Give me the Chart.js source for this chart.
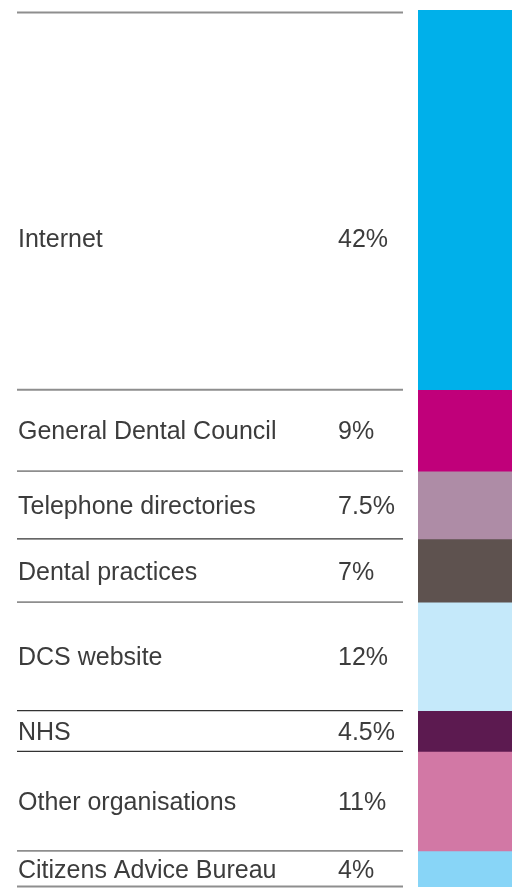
<!DOCTYPE html>
<html>
<head>
<meta charset="utf-8">
<script src="https://cdn.jsdelivr.net/npm/chart.js@4"></script>
<style>
  html, body { margin: 0; padding: 0; background: #ffffff; }
  #wrap { width: 520px; height: 891px; position: relative; }
</style>
</head>
<body>
<div id="wrap"><canvas id="c"></canvas></div>
<script>
const categories = ['Internet', 'General Dental Council', 'Telephone directories', 'Dental practices', 'DCS website', 'NHS', 'Other organisations', 'Citizens Advice Bureau'];
const values = [42, 9, 7.5, 7, 12, 4.5, 11, 4];
const valueLabels = ['42%', '9%', '7.5%', '7%', '12%', '4.5%', '11%', '4%'];
const colors = ['#00b0ea', '#c0007a', '#ae8ca6', '#5e524f', '#c5e9fa', '#5c1a50', '#d278a5', '#88d5f7'];
const dividerColors = ['#8e8e8e', '#8e8e8e', '#8e8e8e', '#333333', '#8e8e8e', '#333333', '#333333', '#8e8e8e', '#8e8e8e'];

const total = values.reduce((a, b) => a + b, 0);

const tablePlugin = {
  id: 'tablePlugin',
  afterDraw(chart, args, opts) {
    const ctx = chart.ctx;
    const metas = chart.data.datasets.map((d, i) => chart.getDatasetMeta(i));
    const bounds = [];
    metas.forEach((m, i) => {
      const el = m.data[0];
      const top = Math.min(el.y, el.base);
      const bot = Math.max(el.y, el.base);
      if (i === 0) bounds.push(top);
      bounds.push(bot);
    });
    ctx.save();
    // divider lines
    bounds.forEach((y, i) => {
      ctx.beginPath();
      ctx.strokeStyle = dividerColors[i];
      ctx.lineWidth = dividerColors[i] === '#333333' ? 1.3 : 1.8;
      let yy = y;
      if (i === 0) yy = y + 2.5;
      if (i === bounds.length - 1) yy = y - 0.5;
      ctx.moveTo(opts.lineLeft, yy);
      ctx.lineTo(opts.lineRight, yy);
      ctx.stroke();
    });
    // labels
    ctx.font = opts.font;
    ctx.fillStyle = opts.color;
    ctx.textBaseline = 'alphabetic';
    ctx.textAlign = 'left';
    categories.forEach((name, i) => {
      const top = bounds[i], bot = bounds[i + 1];
      let cy = (top + bot) / 2;
      if (i === 0) cy = top + (bot - top) * 0.6;
      const base = cy + opts.capHalf;
      ctx.fillText(name, opts.labelX, base);
      ctx.fillText(valueLabels[i], opts.valueX, base);
    });
    ctx.restore();
  }
};

new Chart(document.getElementById('c'), {
  type: 'bar',
  data: {
    labels: ['Sources'],
    datasets: categories.map((name, i) => ({
      label: name,
      data: [values[i]],
      backgroundColor: colors[i],
      borderWidth: 0,
      barPercentage: 1,
      categoryPercentage: 1
    }))
  },
  options: {
    responsive: true,
    maintainAspectRatio: false,
    animation: false,
    layout: { padding: { left: 418, right: 8, top: 10, bottom: 4 } },
    plugins: {
      legend: { display: false },
      tooltip: { enabled: false },
      tablePlugin: {
        lineLeft: 17,
        lineRight: 403,
        labelX: 18,
        valueX: 338,
        capHalf: 9,
        font: '25px "Liberation Sans", Arial, sans-serif',
        color: '#3c3c3c'
      }
    },
    scales: {
      x: { stacked: true, display: false },
      y: { stacked: true, display: false, reverse: true, min: 0, max: total }
    }
  },
  plugins: [tablePlugin]
});
</script>
</body>
</html>
